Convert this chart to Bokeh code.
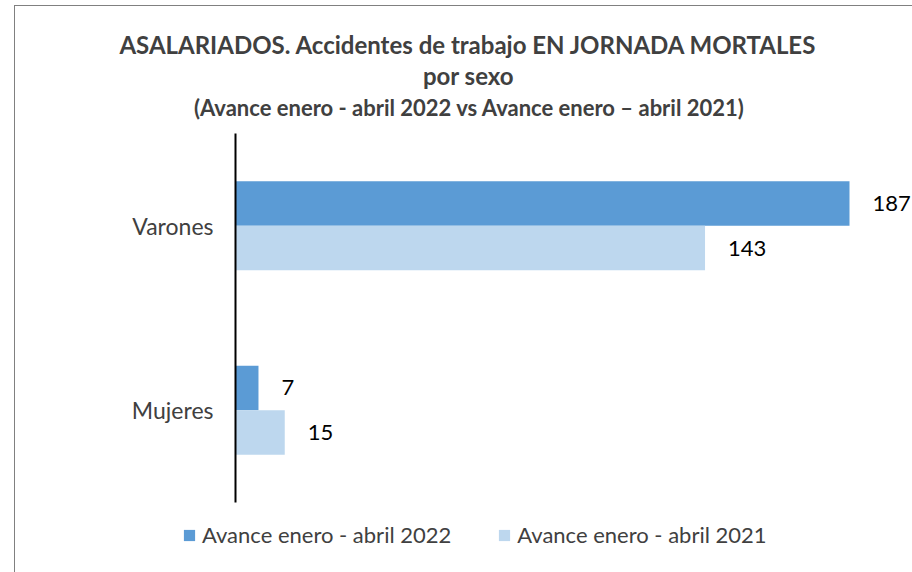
from bokeh.plotting import figure
from bokeh.models import (Range1d, ColumnDataSource, Legend, LegendItem, Label,
                          LinearAxis, FixedTicker)
from bokeh.core.properties import value
from bokeh.embed import file_html
from bokeh.resources import INLINE

# ---- data ----
categories = ["Varones", "Mujeres"]
values_2022 = [187, 7]
values_2021 = [143, 15]
series_names = ["Avance enero - abril 2022", "Avance enero - abril 2021"]
title_lines = [
    "ASALARIADOS. Accidentes de trabajo EN JORNADA MORTALES",
    "por sexo",
    "(Avance enero - abril 2022 vs Avance enero \u2013 abril 2021)",
]

FONT = "Lato"
W, H = 912, 572
FL = 235                      # pixel of the value axis (x = 0)
sx = (849 - FL) / 187.0       # px per unit on x
sy = 184.5                    # px per category band
y_top_cat = 225.25            # pixel centre of first category

# category positions (top to bottom)
pos = list(range(len(categories)))[::-1]
bh = 0.241
off = 0.1206

src = ColumnDataSource(dict(
    y22=[p_ + off for p_ in pos],
    y21=[p_ - off for p_ in pos],
    v22=values_2022,
    v21=values_2021,
    t22=[str(v) for v in values_2022],
    t21=[str(v) for v in values_2021],
))

p = figure(
    width=W, height=H,
    x_range=Range1d(-FL / sx, (W - FL) / sx),
    y_range=Range1d(pos[-1] - (H - (y_top_cat + sy * (len(pos) - 1))) / sy,
                    pos[0] + y_top_cat / sy),
    output_backend="svg", toolbar_location=None,
    x_axis_location=None, y_axis_location=None,
    min_border=0,
)
p.title = None
p.outline_line_color = None
p.border_fill_color = None
p.background_fill_color = None
p.styles = {
    "background-color": "white",
    "background-image": "linear-gradient(#808080,#808080), linear-gradient(#808080,#808080)",
    "background-size": "1px 100%, 100% 1px",
    "background-position": "14px 5px, 14px 5px",
    "background-repeat": "no-repeat",
}
p.xgrid.visible = False
p.ygrid.visible = False

yax = LinearAxis(
    fixed_location=0,
    ticker=FixedTicker(ticks=pos),
    major_label_overrides={p_: c for p_, c in zip(pos, categories)},
    bounds=(pos[-1] - 0.5, pos[0] + 0.5),
    axis_line_color="black", axis_line_width=2,
    major_tick_line_color=None, minor_tick_line_color=None,
    major_tick_out=0, major_tick_in=0,
    major_label_standoff=22,
    major_label_text_font=FONT, major_label_text_font_size="23px",
    major_label_text_color="#404040",
)
p.add_layout(yax, "left")

r22 = p.hbar(y="y22", right="v22", left=0, height=bh, source=src,
             fill_color="#5B9BD5", line_color=None)
r21 = p.hbar(y="y21", right="v21", left=0, height=bh, source=src,
             fill_color="#BDD7EE", line_color=None)

for col, yc, txt in (("v22", "y22", "t22"), ("v21", "y21", "t21")):
    p.text(x=col, y=yc, text=txt, source=src,
           x_offset=23, text_align="left", text_baseline="middle",
           text_font=value(FONT), text_font_size="22px", text_color="black")

legend = Legend(
    items=[LegendItem(label=series_names[0], renderers=[r22]),
           LegendItem(label=series_names[1], renderers=[r21])],
    orientation="horizontal",
    location=(182, 24),
    glyph_width=14, glyph_height=14,
    label_standoff=6, spacing=46, padding=0, margin=0,
    label_text_font=FONT, label_text_font_size="22px", label_text_color="#404040",
    border_line_color=None, background_fill_alpha=0,
)
p.add_layout(legend, "center")

title_specs = [(title_lines[0], 468, 44, "24px"),
               (title_lines[1], 468, 75, "24px"),
               (title_lines[2], 469, 107, "22px")]
for txt, x, y, fs in title_specs:
    p.add_layout(Label(x=x, y=y, x_units="canvas", y_units="canvas", text=txt,
                       text_align="center", text_baseline="middle",
                       text_font=FONT, text_font_style="bold",
                       text_font_size=fs, text_color="#404040"))

open("out.html", "w").write(file_html(p, INLINE))
